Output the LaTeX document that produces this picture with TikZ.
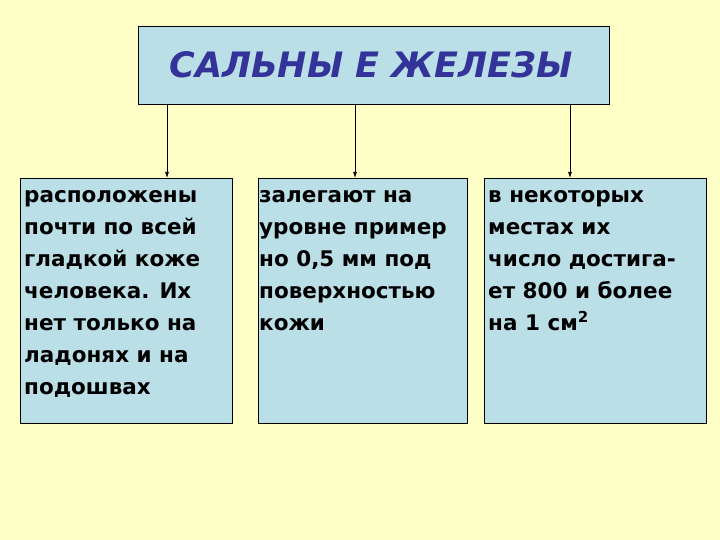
\documentclass[tikz,border=0pt]{standalone}
\usepackage{fontspec}
\usetikzlibrary{arrows.meta}
\setmainfont{DejaVu Sans}
\definecolor{bg}{HTML}{FFFFC8}
\definecolor{boxc}{HTML}{BBDFE6}
\definecolor{titc}{HTML}{333399}
\begin{document}
\begin{tikzpicture}[x=1pt,y=-1pt,
  bx/.style={draw=black,fill=boxc,line width=0.8pt},
  txt/.style={anchor=north west,align=left,inner sep=0pt,font=\fontsize{21.5}{32}\selectfont\bfseries},
  arr/.style={-{Latex[length=6pt,width=4pt]},line width=0.7pt}]
\path[fill=bg] (0,0) rectangle (720,540);
\useasboundingbox (0,0) rectangle (720,540);
\draw[bx] (138,26) rectangle (609,104);
\node (t) at (371,65) {\fontsize{35}{40}\selectfont\bfseries\itshape\color{titc}САЛЬНЫ Е ЖЕЛЕЗЫ};
\coordinate (tb1) at (167,104); \coordinate (tb2) at (355,104); \coordinate (tb3) at (570,104);
\draw[bx] (20,178) rectangle (232,423);
\draw[bx] (258,178) rectangle (467,423);
\draw[bx] (484,178) rectangle (706,423);
\coordinate (b1) at (167,178); \coordinate (b2) at (355,178); \coordinate (b3) at (570,178);
\draw[arr] (tb1) -- (b1);
\draw[arr] (tb2) -- (b2);
\draw[arr] (tb3) -- (b3);
\node[txt] (l) at (24,190) {расположены\\почти по всей\\гладкой коже\\человека. Их\\нет только на\\ладонях и на\\подошвах};
\node[txt] (m) at (259,190) {залегают на\\уровне пример\\но 0,5 мм под\\поверхностью\\кожи};
\node[txt] (r) at (488,190) {в некоторых\\местах их\\число достига-\\ет 800 и более\\на 1 см\textsuperscript{2}};
\end{tikzpicture}
\end{document}
